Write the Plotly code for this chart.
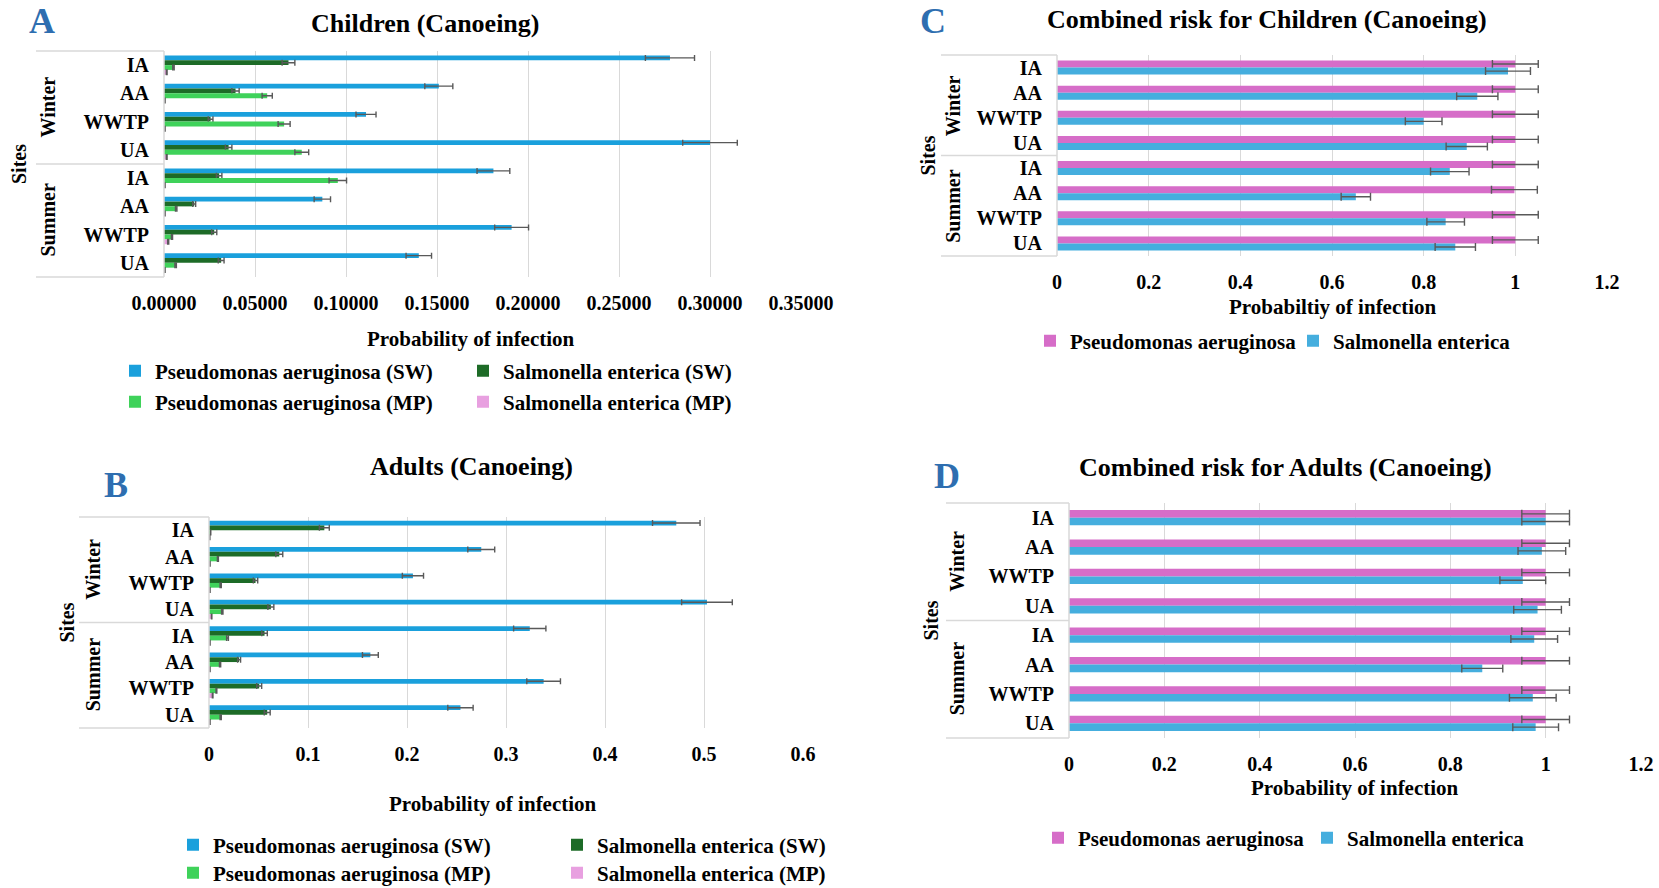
import plotly.graph_objects as go

W, H = 1659, 888

# ---------------- data ----------------
seasons = ["Winter", "Summer"]
sites = ["IA", "AA", "WWTP", "UA"]
categories = [f"{s} {t}" for s in seasons for t in sites]
site_labels = sites * 2

# Panel A: Children (Canoeing)
a_pa_sw = [0.278, 0.151, 0.111, 0.300, 0.181, 0.087, 0.191, 0.140]
a_pa_sw_err = [0.0135, 0.0077, 0.0055, 0.015, 0.009, 0.0045, 0.0093, 0.007]
a_se_sw = [0.0684, 0.0393, 0.0256, 0.0355, 0.0303, 0.0166, 0.0276, 0.0314]
a_se_sw_err = [0.0035, 0.002, 0.0013, 0.0018, 0.0015, 0.0008, 0.0014, 0.0016]
a_pa_mp = [0.0052, 0.0567, 0.066, 0.0757, 0.0955, 0.0067, 0.0044, 0.0064]
a_pa_mp_err = [0.0004, 0.0028, 0.0033, 0.0038, 0.0048, 0.0004, 0.0003, 0.0004]
a_se_mp = [0.0015, 0.0005, 0.0005, 0.0015, 0.0005, 0.0005, 0.0023, 0.0005]
a_se_mp_err = [0.0002, 0.0001, 0.0001, 0.0002, 0.0001, 0.0001, 0.0003, 0.0001]

# Panel B: Adults (Canoeing)
b_pa_sw = [0.472, 0.275, 0.206, 0.503, 0.324, 0.163, 0.338, 0.254]
b_pa_sw_err = [0.024, 0.0136, 0.0107, 0.0256, 0.0163, 0.008, 0.017, 0.0128]
b_se_sw = [0.1165, 0.071, 0.047, 0.0625, 0.0561, 0.0304, 0.0507, 0.0588]
b_se_sw_err = [0.005, 0.0035, 0.0022, 0.003, 0.0028, 0.0015, 0.0025, 0.003]
b_pa_mp = [0.0016, 0.009, 0.0118, 0.0134, 0.0187, 0.0112, 0.0075, 0.0118]
b_pa_mp_err = [0.0002, 0.0005, 0.0006, 0.0007, 0.0009, 0.0006, 0.0004, 0.0006]
b_se_mp = [0.0008, 0.001, 0.001, 0.0027, 0.001, 0.001, 0.0037, 0.001]
b_se_mp_err = [0.0001, 0.0001, 0.0001, 0.0002, 0.0001, 0.0001, 0.0003, 0.0001]

# Panel C: Combined risk, Children
c_pa = [1.0, 1.0, 1.0, 1.0, 1.0, 0.998, 1.0, 1.0]
c_pa_err = [0.05, 0.05, 0.05, 0.05, 0.05, 0.05, 0.05, 0.05]
c_se = [0.984, 0.917, 0.800, 0.894, 0.857, 0.652, 0.848, 0.869]
c_se_err = [0.049, 0.045, 0.04, 0.045, 0.042, 0.032, 0.041, 0.044]

# Panel D: Combined risk, Adults
d_pa = [1.0, 1.0, 1.0, 1.0, 1.0, 1.0, 1.0, 1.0]
d_pa_err = [0.05, 0.05, 0.05, 0.05, 0.05, 0.05, 0.05, 0.05]
d_se = [1.0, 0.992, 0.952, 0.983, 0.976, 0.867, 0.973, 0.979]
d_se_err = [0.05, 0.05, 0.048, 0.05, 0.049, 0.043, 0.049, 0.048]

names4 = ["Pseudomonas aeruginosa (SW)", "Salmonella enterica (SW)",
          "Pseudomonas aeruginosa (MP)", "Salmonella enterica (MP)"]
names2 = ["Pseudomonas aeruginosa", "Salmonella enterica"]

# ---------------- style ----------------
FONT = "Liberation Serif"
C_BLUE = "#1AA0DC"
C_DGREEN = "#1D6B27"
C_LGREEN = "#3FD25A"
C_LPINK = "#E8A0E0"
C_MAG = "#D66DC8"
C_SKY = "#45AEDE"
ERR_C = "#595959"
GRID = "#D9D9D9"
LETTER = "#2E6EB0"


def px(x):
    return x / W


def py(y):
    return 1 - y / H


fig = go.Figure()


def add_bar(xvals, errs, name, color, xa, ya, width, offset, legend, cap=3):
    fig.add_trace(go.Bar(
        y=categories, x=xvals, orientation="h", name=name,
        marker=dict(color=color, line=dict(width=0)), opacity=1,
        width=width, offset=offset, xaxis=xa, yaxis=ya, legend=legend,
        error_x=dict(type="data", array=errs, color=ERR_C, thickness=1.4, width=cap),
        hoverinfo="x+y",
    ))


# Panel A
wA = 0.17
add_bar(a_pa_sw, a_pa_sw_err, names4[0], C_BLUE, "x", "y", wA, -2 * wA, "legend")
add_bar(a_se_sw, a_se_sw_err, names4[1], C_DGREEN, "x", "y", wA, -wA, "legend")
add_bar(a_pa_mp, a_pa_mp_err, names4[2], C_LGREEN, "x", "y", wA, 0, "legend2")
add_bar(a_se_mp, a_se_mp_err, names4[3], C_LPINK, "x", "y", wA, wA, "legend2")

# Panel B
wB = 0.18
add_bar(b_pa_sw, b_pa_sw_err, names4[0], C_BLUE, "x2", "y2", wB, -2 * wB, "legend3")
add_bar(b_se_sw, b_se_sw_err, names4[1], C_DGREEN, "x2", "y2", wB, -wB, "legend3")
add_bar(b_pa_mp, b_pa_mp_err, names4[2], C_LGREEN, "x2", "y2", wB, 0, "legend4")
add_bar(b_se_mp, b_se_mp_err, names4[3], C_LPINK, "x2", "y2", wB, wB, "legend4")

# Panel C
wC = 0.28
add_bar(c_pa, c_pa_err, names2[0], C_MAG, "x3", "y3", wC, -wC, "legend5", cap=4)
add_bar(c_se, c_se_err, names2[1], C_SKY, "x3", "y3", wC, 0, "legend5", cap=4)

# Panel D
wD = 0.26
add_bar(d_pa, d_pa_err, names2[0], C_MAG, "x4", "y4", wD, -wD, "legend6", cap=4)
add_bar(d_se, d_se_err, names2[1], C_SKY, "x4", "y4", wD, 0, "legend6", cap=4)

TICKF = dict(family=FONT, size=20, color="black", weight="bold")


def xaxis(x0, x1, rng, dtick, fmt, anchor):
    return dict(domain=[px(x0), px(x1)], anchor=anchor, range=rng, dtick=dtick,
                tick0=0, tickformat=fmt, showgrid=True, gridcolor=GRID, gridwidth=1.2,
                zeroline=False, showline=False, ticks="", tickfont=TICKF,
                ticklabelstandoff=12, fixedrange=True, automargin=False)


def yaxis(y0, y1, anchor):
    return dict(domain=[py(y1), py(y0)], anchor=anchor, type="category",
                categoryorder="array", categoryarray=categories,
                range=[7.5, -0.5], tickvals=categories, ticktext=site_labels,
                showgrid=False, zeroline=False, showline=False, ticks="",
                tickfont=TICKF, ticklabelstandoff=14, fixedrange=True,
                automargin=False)


# panel geometry (pixels)
A = dict(x0=164, x1=801, y0=51, y1=277, box=36)
B = dict(x0=209, x1=803, y0=517, y1=728, box=79)
C = dict(x0=1057, x1=1607, y0=55, y1=256, box=941)
D = dict(x0=1069, x1=1641, y0=503, y1=738, box=946)

fig.update_layout(
    template="none",
    width=W, height=H, margin=dict(l=0, r=0, t=0, b=0, autoexpand=False),
    paper_bgcolor="white", plot_bgcolor="white",
    barmode="overlay",
    font=dict(family=FONT, size=20, color="black", weight="bold"),
    xaxis=xaxis(A["x0"], A["x1"], [0, 0.35], 0.05, ".5f", "y"),
    yaxis=yaxis(A["y0"], A["y1"], "x"),
    xaxis2=xaxis(B["x0"], B["x1"], [0, 0.6], 0.1, "", "y2"),
    yaxis2=yaxis(B["y0"], B["y1"], "x2"),
    xaxis3=xaxis(C["x0"], C["x1"], [0, 1.2], 0.2, "", "y3"),
    yaxis3=yaxis(C["y0"], C["y1"], "x3"),
    xaxis4=xaxis(D["x0"], D["x1"], [0, 1.2], 0.2, "", "y4"),
    yaxis4=yaxis(D["y0"], D["y1"], "x4"),
)

LEGF = dict(family=FONT, size=21, color="black", weight="bold")


def legend(xm, ym, entry):
    return dict(x=px(xm - 25), y=py(ym), xanchor="left", yanchor="middle",
                orientation="h", entrywidth=entry, entrywidthmode="pixels",
                font=LEGF, bgcolor="rgba(0,0,0,0)", traceorder="normal",
                itemclick=False, itemdoubleclick=False, borderwidth=0)


fig.update_layout(
    legend=legend(140, 371, 303),
    legend2=legend(140, 402, 303),
    legend3=legend(198, 845, 339),
    legend4=legend(198, 873, 339),
    legend5=legend(1055, 341, 218),
    legend6=legend(1063, 838, 224),
)

ann = []
shapes = []


def text(x, y, s, size, color="black", angle=0):
    ann.append(dict(x=px(x), y=py(y), xref="paper", yref="paper", text=s,
                    showarrow=False, xanchor="center", yanchor="middle",
                    textangle=angle,
                    font=dict(family=FONT, size=size, color=color, weight="bold")))


def line(x0, y0, x1, y1):
    shapes.append(dict(type="line", xref="paper", yref="paper",
                       x0=px(x0), y0=py(y0), x1=px(x1), y1=py(y1),
                       line=dict(color=GRID, width=1.5)))


# panel letters & titles
text(42, 21, "A", 36, LETTER)
text(425, 23, "Children (Canoeing)", 26)
text(116, 485, "B", 36, LETTER)
text(472, 466, "Adults (Canoeing)", 26)
text(933, 21, "C", 36, LETTER)
text(1267, 20, "Combined risk for Children (Canoeing)", 26)
text(947, 476, "D", 36, LETTER)
text(1285, 467, "Combined risk for Adults (Canoeing)", 26)

# axis titles
text(471, 339, "Probability of infection", 21)
text(493, 804, "Probability of infection", 21)
text(1333, 307, "Probabiltiy of infection", 21)
text(1355, 788, "Probability of infection", 21)

# category boxes, season and 'Sites' labels
for P, sx, wx in [(A, 19, 48), (B, 66, 93), (C, 928, 953), (D, 930, 957)]:
    mid = (P["y0"] + P["y1"]) / 2
    line(P["box"], P["y0"], P["x0"], P["y0"])
    line(P["box"], mid, P["x0"], mid)
    line(P["box"], P["y1"], P["x0"], P["y1"])
    line(P["x0"], P["y0"], P["x0"], P["y1"])
    text(wx, (P["y0"] + mid) / 2, seasons[0], 20, angle=-90)
    text(wx, (mid + P["y1"]) / 2, seasons[1], 20, angle=-90)
    text(sx, mid, "Sites", 20, angle=-90)

fig.update_layout(annotations=ann, shapes=shapes)

fig.write_html("out.html")
